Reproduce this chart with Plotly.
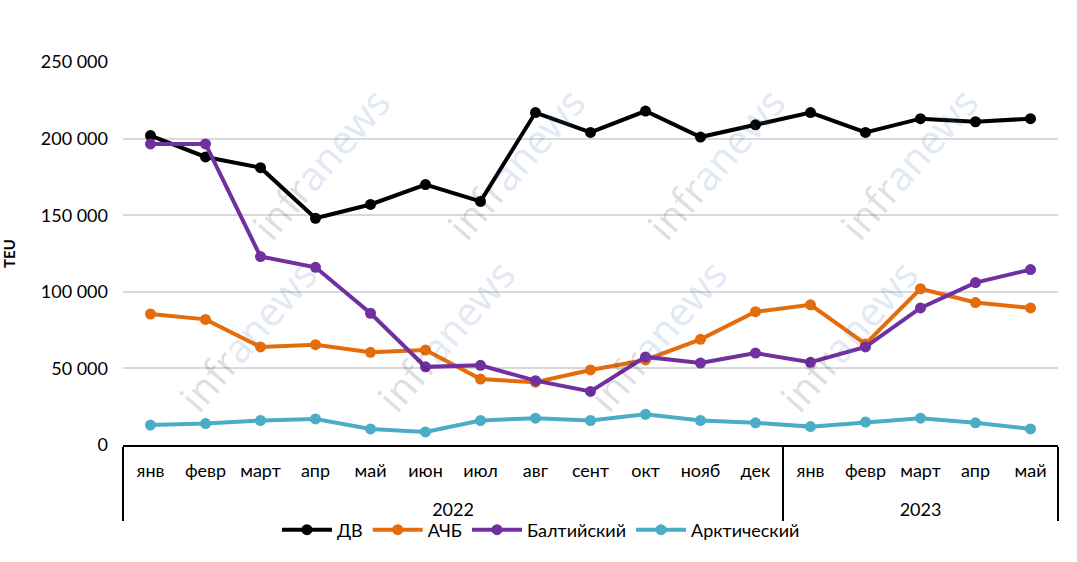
import plotly.graph_objects as go

# data
years = ["2022"] * 12 + ["2023"] * 5
months = ["янв", "февр", "март", "апр", "май", "июн", "июл", "авг", "сент", "окт", "нояб", "дек",
          "янв", "февр", "март", "апр", "май"]

dv = [202000, 188000, 181000, 148000, 157000, 170000, 159000, 217000, 204000, 218000, 201000, 209000,
      217000, 204000, 213000, 211000, 213000]
achb = [85500, 82000, 64000, 65500, 60500, 62000, 43000, 41000, 49000, 55500, 69000, 87000,
        91500, 66000, 102000, 93000, 89500]
baltic = [196500, 196500, 123000, 116000, 86000, 51000, 52000, 42000, 35000, 57500, 53500, 60000,
          54000, 64000, 89500, 106000, 114500]
arctic = [13000, 14000, 16000, 17000, 10500, 8500, 16000, 17500, 16000, 20000, 16000, 14500,
          12000, 15000, 17500, 14500, 10500]

series = [
    ("ДВ", dv, "#000000"),
    ("АЧБ", achb, "#E46C0A"),
    ("Балтийский", baltic, "#7030A0"),
    ("Арктический", arctic, "#4BACC6"),
]

FONT = "Lato"

fig = go.Figure()
for name, vals, color in series:
    fig.add_trace(go.Scatter(
        x=[["<br>" + y for y in years], months], y=vals, name=name, mode="lines+markers",
        line=dict(color=color, width=4),
        marker=dict(color=color, size=11),
    ))

# watermark (plot area in pixels: x 123..1058, y 62..445)
wm_centers = [(320, 163), (515, 163), (715, 163), (908, 163),
              (247, 335), (445, 335), (657, 335), (848, 335)]
for cx, cy in wm_centers:
    fig.add_annotation(
        x=(cx - 123) / 935, y=(445 - cy) / 383, xref="paper", yref="paper",
        xanchor="center", yanchor="middle",
        text='<span style="color:rgba(0,0,0,0.13)">infr</span>'
             '<span style="color:rgba(70,120,195,0.17)">anews</span>',
        showarrow=False, textangle=-49, font=dict(family="Noto Sans", size=40),
    )

fig.update_layout(
    width=1077, height=562,
    margin=dict(l=123, r=19, t=62, b=117, autoexpand=False),
    paper_bgcolor="white", plot_bgcolor="white",
    font=dict(family=FONT, size=18, color="#000000"),
    separators=", ",
    showlegend=True,
    legend=dict(orientation="h", x=0.447, xanchor="center", y=-0.222, yanchor="middle",
                font=dict(size=18), itemwidth=50, tracegroupgap=0,
                bgcolor="rgba(0,0,0,0)"),
    xaxis=dict(
        range=[-0.5, 16.5],
        showline=True, linecolor="#000000", linewidth=2,
        showdividers=True, dividercolor="#000000", dividerwidth=2,
        tickfont=dict(size=18), automargin=False, showgrid=False,
        ticklabelstandoff=8,
    ),
    yaxis=dict(
        range=[0, 250000], dtick=50000, tickformat=",d",
        showgrid=True, gridcolor="#d9d9d9", gridwidth=1.5,
        zeroline=False, showline=False, automargin=False,
        title=dict(text="<b>TEU</b>", font=dict(size=15), standoff=22),
        tickfont=dict(size=18), ticklabelstandoff=14,
    ),
)

fig.write_html("out.html", config={"displayModeBar": False},
               post_script="document.body.style.margin='0';")
